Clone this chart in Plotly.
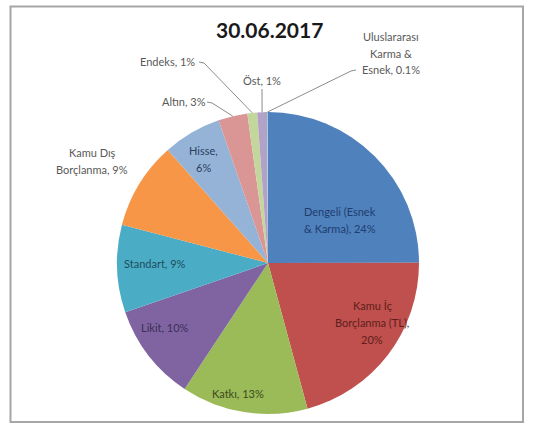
import math
import plotly.graph_objects as go

# ---- data -------------------------------------------------------------
categories = [
    "Dengeli (Esnek & Karma)", "Kamu İç Borçlanma (TL)", "Katkı", "Likit",
    "Standart", "Kamu Dış Borçlanma", "Hisse", "Altın", "Endeks", "Öst",
    "Uluslararası Karma & Esnek",
]
shares = [24, 20, 13, 10, 9, 9, 6, 3, 1, 1, 0.1]
# label text per slice; "|" marks a line break, {} takes the share
label_templates = [
    "Dengeli (Esnek|& Karma), {}%", "Kamu İç|Borçlanma (TL),|{}%", "Katkı, {}%",
    "Likit, {}%", "Standart, {}%", "Kamu Dış|Borçlanma, {}%", "Hisse,|{}%",
    "Altın, {}%", "Endeks, {}%", "Öst, {}%", "Uluslararası|Karma &|Esnek, {}%",
]
title_text = "30.06.2017"

# ---- styling ----------------------------------------------------------
W, H = 535, 425
slice_colors = ["#4F81BD", "#C0504D", "#9BBB59", "#8064A2", "#4BACC6", "#F79646",
                "#95B3D7", "#D99694", "#C3D69B", "#B3A2C7", "#93CDDD"]
text_colors = ["#1F3D6E", "#5E1E1C", "#3B4A1C", "#3C2E55", "#1D4E5C", "#595959",
               "#2A3F5E", "#595959", "#595959", "#595959", "#595959"]
FONT = "Lato"
LINE_STEP = 17  # px between label lines

# pie placement in pixels
CX, CY, R = 268, 263, 151

# label block centres (px) and optional leader anchor (px, dash direction)
label_pos = [(340, 220), (372, 322), (238, 393), (165, 327), (155, 263),
             (92, 161), (203, 159), (184, 101), (167, 61), (262, 81), (391, 53)]
leaders = {7: ((207, 102), 5), 8: ((199, 62), 5), 9: ((262, 89), 0), 10: ((356, 70), -5)}


def px(x):
    return x / W


def py(y):
    return 1 - y / H


fig = go.Figure(go.Pie(
    labels=categories,
    values=shares,
    sort=False,
    direction="clockwise",
    rotation=0,
    marker=dict(colors=slice_colors, line=dict(width=0)),
    textinfo="none",
    hoverinfo="label+value",
    showlegend=False,
    domain=dict(x=[px(CX - R), px(CX + R)], y=[py(CY + R), py(CY - R)]),
))

annotations = []
shapes = []

# slice labels, one annotation per text line
for i, (tpl, v) in enumerate(zip(label_templates, shares)):
    lines = tpl.format(f"{v:g}").split("|")
    cx, cy = label_pos[i]
    n = len(lines)
    for k, line in enumerate(lines):
        y = cy + (k - (n - 1) / 2) * LINE_STEP
        annotations.append(dict(
            x=px(cx), y=py(y), xref="paper", yref="paper", text=line,
            showarrow=False, xanchor="center", yanchor="middle",
            font=dict(family=FONT, size=11, color=text_colors[i]),
        ))

# leader lines from outside labels to the middle of their slice edge
total = sum(shares)
cum = 0.0
mids = []
for v in shares:
    mids.append((cum + v / 2) / total * 2 * math.pi)
    cum += v
for i, ((ax, ay), dash) in leaders.items():
    ex = CX + R * math.sin(mids[i])
    ey = CY - R * math.cos(mids[i])
    pts = [(ax, ay)]
    if dash:
        pts.append((ax + dash, ay + 1))
    pts.append((ex, ey))
    path = "M " + " L ".join(f"{px(x):.5f},{py(y):.5f}" for x, y in pts)
    shapes.append(dict(type="path", path=path, xref="paper", yref="paper",
                       line=dict(color="#8C8C8C", width=1)))

# chart frame
shapes.append(dict(type="rect", xref="paper", yref="paper",
                   x0=px(10.5), x1=px(523), y0=py(422), y1=py(6.5),
                   line=dict(color="#A6A6A6", width=2), layer="below"))

annotations.append(dict(
    x=px(270), y=py(30), xref="paper", yref="paper", text=f"<b>{title_text}</b>",
    showarrow=False, xanchor="center", yanchor="middle",
    font=dict(family=FONT, size=21, color="#1A1A1A"),
))

fig.update_layout(
    width=W, height=H,
    margin=dict(l=0, r=0, t=0, b=0),
    paper_bgcolor="white", plot_bgcolor="white",
    annotations=annotations, shapes=shapes,
)

fig.write_html("out.html")
